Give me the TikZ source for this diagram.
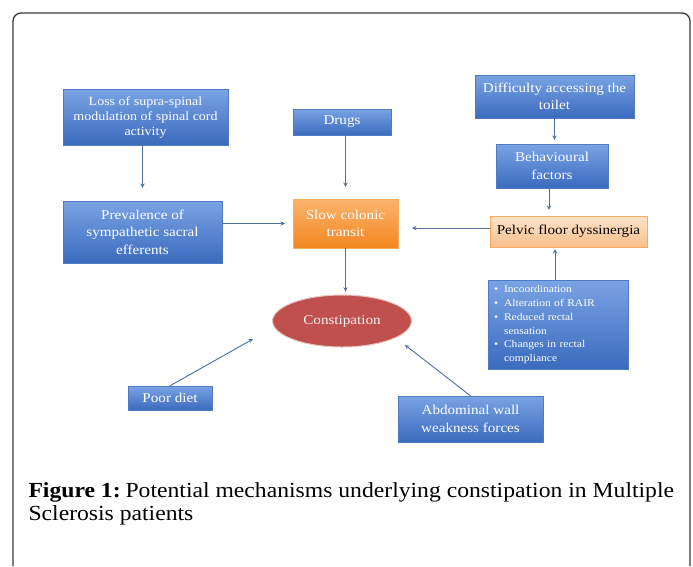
\documentclass[tikz,border=0pt]{standalone}
\usepackage{fontspec}
\setmainfont{Liberation Serif}
\newfontfamily\boxfont{Liberation Serif}[FakeStretch=1.12]
\newfontfamily\capfont{Liberation Serif}[FakeStretch=1.1]
\usetikzlibrary{shapes.geometric}

\definecolor{boxblueT}{HTML}{7AA3E4}
\definecolor{boxblueB}{HTML}{3B6BBE}
\definecolor{boxblueD}{HTML}{4E7BC2}
\definecolor{orangeT}{HTML}{FBB46E}
\definecolor{orangeB}{HTML}{F3861F}
\definecolor{peachT}{HTML}{FDE5CB}
\definecolor{peachB}{HTML}{F9BE8A}
\definecolor{constred}{HTML}{C0504D}
\definecolor{linkcol}{HTML}{4F6E9E}
\definecolor{framecol}{HTML}{3A3A3A}

\tikzset{
  bluebox/.style={draw=boxblueD, top color=boxblueT, bottom color=boxblueB,
    text=white, align=center, inner sep=2pt, font=\boxfont\fontsize{13.5}{17.5}\selectfont},
  orangebox/.style={draw=orangeT!80!orangeB, top color=orangeT, bottom color=orangeB,
    text=white, align=center, inner sep=2pt, font=\boxfont\fontsize{13.5}{17.5}\selectfont},
  peachbox/.style={draw=orangeB!70, top color=peachT, bottom color=peachB,
    text=black, align=center, inner sep=2pt, font=\boxfont\fontsize{13.5}{17.5}\selectfont},
  link/.style={->, draw=linkcol, line width=0.9pt},
  >=stealth
}

\begin{document}
\begin{tikzpicture}[x=1pt,y=-1pt]
	\useasboundingbox (0,0) rectangle (693,566);
	\fill[white] (0,0) rectangle (693,566);
	\draw[framecol, line width=1.3pt, rounded corners=8pt] (13,566) -- (13,13) -- (690,13) -- (690,566);

	\node[bluebox, minimum width=165pt, minimum height=56pt, font=\boxfont\fontsize{12.5}{15}\selectfont] (loss) at (145.5,117) {Loss of supra-spinal\\modulation of spinal cord\\activity};
	\node[bluebox, minimum width=159pt, minimum height=62pt] (prev) at (142.5,232) {Prevalence of\\sympathetic sacral\\efferents};
	\node[bluebox, minimum width=98pt, minimum height=26pt] (drugs) at (342,122) {Drugs};
	\node[orangebox, minimum width=105pt, minimum height=49pt] (slow) at (345.5,223.5) {Slow colonic\\transit};
	\node[ellipse, draw=constred!35, line width=1pt, fill=constred, text=white!92!constred,
		minimum width=139pt, minimum height=52pt, font=\boxfont\fontsize{13.5}{17.5}\selectfont] (const) at (342,321) {Constipation};
	\node[bluebox, minimum width=159pt, minimum height=43pt] (diff) at (554.5,96.5) {Difficulty accessing the\\toilet};
	\node[bluebox, minimum width=112pt, minimum height=44pt] (behav) at (552,166) {Behavioural\\factors};
	\node[peachbox, minimum width=157pt, minimum height=31pt] (pelvic) at (568.5,231.5) {Pelvic floor dyssinergia};
	\node[bluebox, minimum height=89pt, text width=128pt, inner xsep=6pt, align=left,
		font=\boxfont\fontsize{10.3}{13.8}\selectfont] (signs) at (558,324.5)
		{\begin{tabular}{@{}l@{\hspace{6pt}}l@{}}
			\textbullet & Incoordination\\
			\textbullet & Alteration of RAIR\\
			\textbullet & Reduced rectal\\
			 & sensation\\
			\textbullet & Changes in rectal\\
			 & compliance
		\end{tabular}};
	\node[bluebox, minimum width=84pt, minimum height=24pt] (diet) at (170,398) {Poor diet};
	\node[bluebox, minimum width=145pt, minimum height=46pt] (abd) at (470.5,419) {Abdominal wall\\weakness forces};

	\coordinate (dietend) at (253,339);
	\coordinate (abdend) at (405,345);

	\draw[link, shorten >=13pt] (prev.north |- loss.south) -- (prev.north);
	\draw[link, shorten >=8pt] (prev.east |- slow.west) -- (slow.west);
	\draw[link, shorten >=12pt] (drugs.south -| slow.north) -- (slow.north);
	\draw[link, shorten >=3pt] (slow.south) -- (slow.south |- const.north);
	\draw[link, shorten >=4pt] (diff.south) -- (diff.south |- behav.north);
	\draw[link, shorten >=6pt] (behav.south -| 549,0) -- (549,0 |- pelvic.north);
	\draw[link, shorten >=14pt] (pelvic.west |- 0,228) -- (slow.east |- 0,228);
	\draw[link, shorten >=2pt] (signs.north -| 555,0) -- (555,0 |- pelvic.south);
	\draw[link] (diet.north) -- (dietend);
	\draw[link] (abd.north) -- (abdend);

	\node[anchor=base west, align=left, font=\capfont\fontsize{21.5}{23}\selectfont] (caption) at (25,520)
		{\textbf{Figure 1:}\hspace{-3pt} Potential mechanisms underlying constipation in Multiple\\Sclerosis patients};
\end{tikzpicture}
\end{document}
